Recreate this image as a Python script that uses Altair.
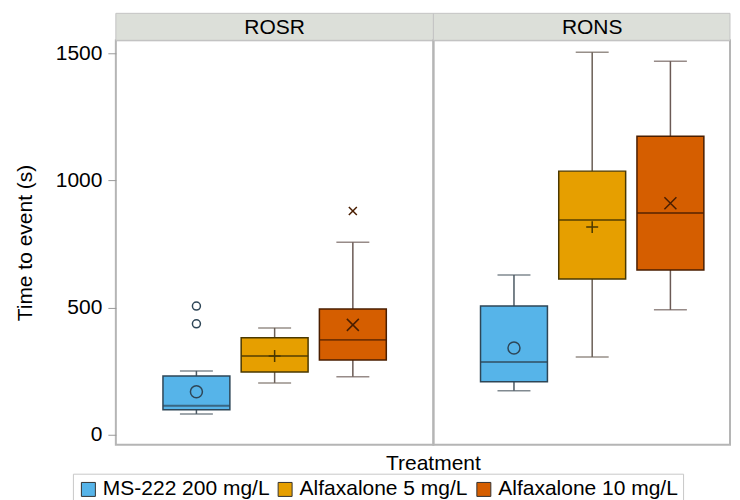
import altair as alt
import pandas as pd

# ---------------- data ----------------
treatment_order = ["MS-222 200 mg/L", "Alfaxalone 5 mg/L", "Alfaxalone 10 mg/L"]
panel = ["ROSR", "ROSR", "ROSR", "RONS", "RONS", "RONS"]
treatment = treatment_order * 2
whisker_low = [82, 204, 228, 173, 306, 491]
q1 = [98, 247, 294, 208, 612, 648]
median = [114, 310, 373, 286, 844, 871]
q3 = [231, 381, 494, 506, 1036, 1173]
whisker_high = [251, 420, 757, 628, 1503, 1468]
mean = [169, 310, 432, 341, 816, 910]

outlier_panel = ["ROSR", "ROSR", "ROSR"]
outlier_treatment = ["MS-222 200 mg/L", "MS-222 200 mg/L", "Alfaxalone 10 mg/L"]
outlier_value = [436, 506, 879]

y_ticks = [0, 500, 1000, 1500]

# ---------------- styles ----------------
fill_colors = ["#56B4E9", "#E69F00", "#D55E00"]
box_strokes = ["#2e4657", "#4a3800", "#4a1e00"]
whisker_strokes = ["#4c5963", "#6b5f57", "#6b5a55"]
shapes = ["circle", "M-1,0L1,0M0,-1L0,1", "M-1,-1L1,1M-1,1L1,-1"]
FONT = "Liberation Sans"
W1, W2, H = 318, 297, 405

df = pd.DataFrame({
    "panel": panel, "treatment": treatment, "wlo": whisker_low, "q1": q1,
    "median": median, "q3": q3, "whi": whisker_high, "mean": mean,
})
odf = pd.DataFrame({"panel": outlier_panel, "treatment": outlier_treatment,
                    "value": outlier_value})


def by_treatment(values):
    return [{"test": f"datum.treatment === '{t}'", "value": v}
            for t, v in zip(treatment_order[:-1], values[:-1])], values[-1]


def stroke_of(values):
    cond, last = by_treatment(values)
    return alt.StrokeValue(value=last, condition=cond)


def fill_of(values):
    cond, last = by_treatment(values)
    return alt.FillValue(value=last, condition=cond)


def shape_of(values):
    cond, last = by_treatment(values)
    return alt.ShapeValue(value=last, condition=cond)


yscale = alt.Scale(domain=[-39, 1550], nice=False, zero=False)
xenc = alt.X("treatment:N", sort=treatment_order,
             scale=alt.Scale(domain=treatment_order, paddingInner=0, paddingOuter=0.53,
                             range=[0, W1]),
             axis=None)


def make_panel(name, width, first):
    d = df[df["panel"] == name]
    o = odf[odf["panel"] == name]
    if first:
        yaxis = alt.Axis(values=y_ticks, title="Time to event (s)", titlePadding=20,
                         labelPadding=6, tickSize=8, format="d", grid=False,
                         domain=False, labelFontSize=21, titleFontSize=21,
                         labelFont=FONT, titleFont=FONT, titleFontWeight="normal",
                         labelColor="black", titleColor="black", tickColor="#9a9a9a")
    else:
        yaxis = None

    def Y(field):
        return alt.Y(field, scale=yscale, axis=yaxis)

    base = alt.Chart(d)
    head_df = pd.DataFrame({"label": [name]})
    header = alt.Chart(head_df).mark_rect(fill="#dcdfd9", stroke="#c4c4c4", strokeWidth=1).encode(
        x=alt.value(0), x2=alt.value(width), y=alt.value(-27), y2=alt.value(0))
    header_text = alt.Chart(head_df).mark_text(
        font=FONT, fontSize=21, color="black", baseline="alphabetic", align="center"
    ).encode(x=alt.value(W1 / 2), y=alt.value(-6), text="label:N")

    wl = base.mark_rule(strokeWidth=1.5).encode(
        x=xenc, y=Y("wlo:Q"), y2="q1:Q", stroke=stroke_of(whisker_strokes))
    wh = base.mark_rule(strokeWidth=1.5).encode(
        x=xenc, y=Y("q3:Q"), y2="whi:Q", stroke=stroke_of(whisker_strokes))
    cap_lo = base.mark_tick(size=33, thickness=1.5).encode(
        x=xenc, y=Y("wlo:Q"), fill=fill_of(whisker_strokes))
    cap_hi = base.mark_tick(size=33, thickness=1.5).encode(
        x=xenc, y=Y("whi:Q"), fill=fill_of(whisker_strokes))
    box = base.mark_bar(size=67, strokeWidth=1.5).encode(
        x=xenc, y=Y("q1:Q"), y2="q3:Q",
        color=alt.Color("treatment:N", scale=alt.Scale(domain=treatment_order, range=fill_colors),
                        legend=alt.Legend(
                            orient="none", legendX=-43, legendY=434, direction="horizontal",
                            title=None, symbolType="square", symbolSize=196,
                            symbolStrokeColor="#333333", symbolStrokeWidth=1,
                            labelFontSize=21, labelFont=FONT, labelColor="black",
                            strokeColor="#c8c8c8", padding=5, columnPadding=5,
                            labelOffset=4, labelLimit=0, symbolOpacity=1)),
        stroke=stroke_of(box_strokes))
    med = base.mark_tick(size=67, thickness=2).encode(
        x=xenc, y=Y("median:Q"), fill=fill_of(box_strokes))
    mn = base.mark_point(filled=False, strokeWidth=1.5, size=144, opacity=1).encode(
        x=xenc, y=Y("mean:Q"), shape=shape_of(shapes), stroke=stroke_of(box_strokes))
    layers = [header, header_text, wl, wh, cap_lo, cap_hi, box, med, mn]
    if len(o):
        outl = alt.Chart(o).mark_point(filled=False, strokeWidth=1.5, size=64, opacity=1).encode(
            x=xenc, y=Y("value:Q"), shape=shape_of(shapes), stroke=stroke_of(box_strokes))
        layers.append(outl)
    if first:
        ttl = alt.Chart(pd.DataFrame({"t": ["Treatment"]})).mark_text(
            font=FONT, fontSize=21, color="black", baseline="alphabetic", align="center"
        ).encode(x=alt.value(W1), y=alt.value(430), text="t:N")
        layers.append(ttl)
    return alt.layer(*layers).properties(width=width, height=H)


chart = alt.hconcat(
    make_panel("ROSR", W1, True), make_panel("RONS", W2, False),
    spacing=0, bounds="flush",
).resolve_scale(color="shared").properties(
    padding={"left": 5, "top": 3, "right": 0, "bottom": 0},
    background="white",
).configure_view(stroke="#b5b5b5", strokeWidth=2).configure_axis(
    labelFont=FONT, titleFont=FONT, labelFontSize=21, titleFontSize=21,
    titleFontWeight="normal", labelColor="black", titleColor="black",
    tickColor="#9a9a9a", domain=False, grid=False,
)

chart.save("out.html", embed_options={"renderer": "svg", "actions": False})
